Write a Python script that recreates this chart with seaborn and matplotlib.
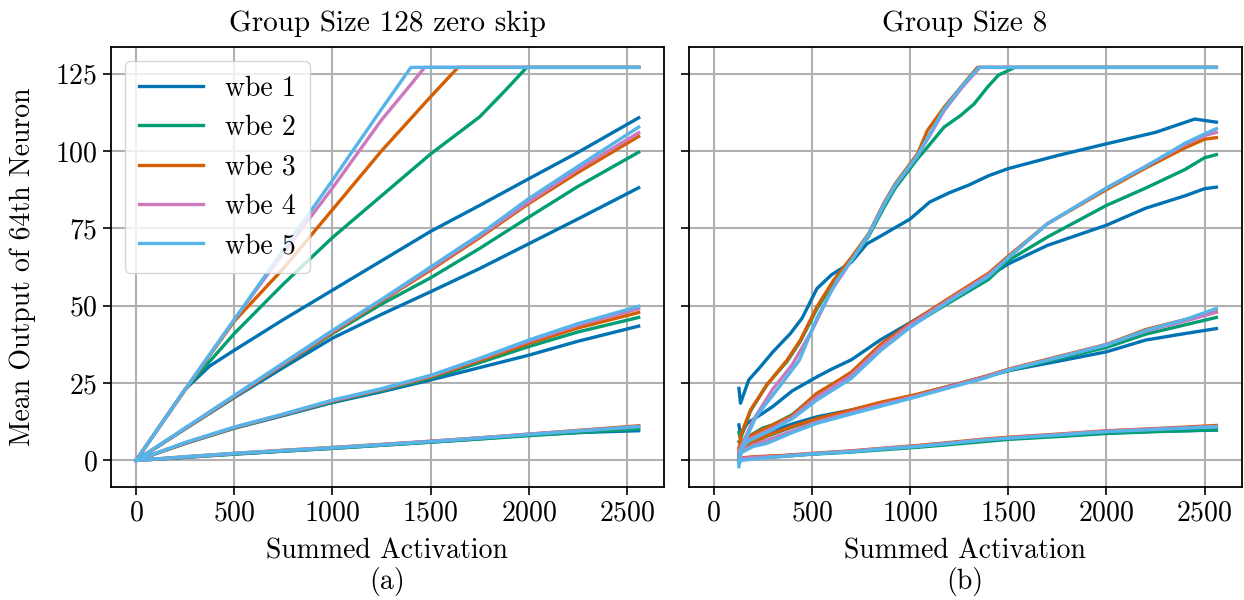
import matplotlib.pyplot as plt
import seaborn as sns
import pandas as pd

plt.rcParams["font.family"] = "serif"
plt.rcParams["font.serif"] = ["cmr10"]
plt.rcParams["mathtext.fontset"] = "cm"
plt.rcParams["axes.formatter.use_mathtext"] = True
plt.rcParams["font.size"] = 20

labels = ["wbe 1", "wbe 2", "wbe 3", "wbe 4", "wbe 5"]
colors = ["#0173B2", "#029E73", "#D55E00", "#CC78BC", "#56B4E9"]

# ---------- (a) Group Size 128 zero skip ----------
# upper family (runs into the 127 ceiling), own x points per wbe
a1_x = [
    [0, 125, 250, 375, 500, 750, 1000, 1250, 1500, 1750, 2000, 2250, 2560],
    [0, 250, 500, 750, 1000, 1250, 1500, 1750, 1880, 1990, 2560],
    [0, 250, 500, 750, 1000, 1250, 1500, 1640, 2560],
    [0, 250, 500, 750, 1000, 1250, 1400, 1470, 2560],
    [0, 250, 500, 750, 1000, 1250, 1400, 2560],
]
a1_y = [
    [0, 11.5, 23, 30.5, 35.6, 45.5, 55, 64.5, 74, 82.4, 91, 99.5, 110.7],
    [0, 23, 41, 57, 72, 85.5, 99, 111, 119.5, 127, 127],
    [0, 22.8, 45, 62, 81, 100, 117.5, 127, 127],
    [0, 23, 45.5, 67, 88, 110, 121.5, 127, 127],
    [0, 23, 45.5, 68, 90.5, 113.5, 127, 127],
]
# the three lower families share these x points
xa = [0, 250, 500, 750, 1000, 1250, 1500, 1750, 2000, 2250, 2560]
a2_y = [
    [0, 10.2, 20.3, 30, 39.5, 47.2, 54.5, 62, 70, 78, 88.1],
    [0, 10.3, 20.5, 30.8, 41, 50.5, 59, 68.5, 78.6, 88.5, 99.6],
    [0, 10.3, 20.6, 31, 41.3, 51.5, 61.5, 72, 83, 93, 104.7],
    [0, 10.4, 20.8, 31.2, 41.7, 51.8, 62, 72.5, 83.5, 94, 105.9],
    [0, 10.5, 21, 31.5, 42, 52, 62.5, 73, 84.6, 95, 107.7],
]
a3_y = [
    [0, 5.5, 10.4, 14.5, 18.7, 22.2, 26, 30, 34, 38.5, 43.4],
    [0, 5.5, 10.5, 14.7, 19, 22.6, 26.6, 31.6, 36.8, 41.5, 46.2],
    [0, 5.6, 10.6, 14.8, 19.2, 22.9, 27, 32.3, 37.8, 42.8, 47.8],
    [0, 5.7, 10.7, 14.9, 19.3, 23, 27.3, 32.8, 38.5, 43.7, 49],
    [0, 5.8, 10.8, 15, 19.5, 23.2, 27.5, 33, 38.9, 44.2, 49.8],
]
a4_y = [
    [0, 1.0, 2.1, 3.0, 3.9, 4.9, 5.9, 7.0, 8.2, 9.0, 9.6],
    [0, 1.0, 2.0, 3.0, 3.9, 4.9, 5.9, 6.9, 8.0, 9.0, 10.2],
    [0, 1.2, 2.3, 3.3, 4.2, 5.2, 6.2, 7.3, 8.5, 9.7, 11.2],
    [0, 1.1, 2.2, 3.2, 4.1, 5.1, 6.2, 7.3, 8.5, 9.6, 11.0],
    [0, 1.2, 2.3, 3.2, 4.1, 5.1, 6.1, 7.2, 8.4, 9.5, 10.9],
]

# ---------- (b) Group Size 8 ----------
b1_x = [
    [128, 136, 178, 238, 300, 390, 450, 525, 600, 700, 780, 850, 1000, 1100,
     1200, 1300, 1400, 1500, 1750, 2000, 2250, 2450, 2560],
    [128, 136, 187, 271, 373, 441, 525, 610, 700, 789, 865, 924, 1038, 1088,
     1173, 1258, 1326, 1394, 1450, 1534, 2560],
    [128, 136, 187, 271, 373, 441, 525, 610, 700, 789, 865, 924, 1038, 1088,
     1173, 1258, 1343, 2560],
    [128, 136, 200, 300, 400, 500, 600, 700, 789, 865, 924, 1038, 1100, 1173,
     1258, 1355, 2560],
    [128, 136, 215, 334, 436, 525, 628, 700, 789, 865, 924, 1038, 1100, 1173,
     1258, 1350, 2560],
]
b1_y = [
    [23.3, 18.5, 26, 30.3, 35, 41, 46, 55.5, 60, 64, 70, 72.5, 78, 83.5,
     86.5, 89, 92, 94.3, 98.5, 102.3, 106, 110.3, 109.3],
    [9, 7, 16, 24.5, 32, 38.5, 49, 57.5, 64.5, 72.5, 81.5, 88, 97.5, 101.2,
     107.7, 111.5, 115.2, 120.6, 124.5, 127, 127],
    [2.7, 8, 16.3, 24.5, 32.4, 38.9, 49.6, 58.2, 65.5, 73.3, 83, 89.4, 99.1,
     106.6, 114.1, 120.6, 127, 127],
    [0, 4, 13, 23, 31, 42, 55, 64.5, 73, 82.5, 88.8, 98.5, 105, 113, 120,
     127, 127],
    [-2, 3, 14.1, 23.8, 32.4, 46, 58.2, 64.5, 73, 82.5, 89, 98.5, 105.5,
     113.5, 120.5, 127, 127],
]
xb2 = [128, 136, 170, 250, 300, 400, 525, 600, 700, 850, 1000, 1200, 1400,
       1500, 1700, 2000, 2200, 2400, 2500, 2560]
b2_y = [
    [11.5, 8.2, 12, 15.3, 17.4, 22.5, 27, 29.5, 32.5, 39, 44.5, 52, 59.5,
     63.5, 69.5, 76, 81.5, 85.5, 87.8, 88.3],
    [6, 5, 7.5, 10.5, 11.5, 14.8, 21.5, 24.5, 28, 36.5, 43.3, 51, 58.5,
     64.6, 72.2, 82.4, 88, 94, 97.8, 98.8],
    [4, 6, 7.5, 10, 11.5, 14.5, 21.7, 24.5, 28.5, 37.5, 44.3, 52.5, 60.5,
     66, 76.5, 87.5, 94.5, 101, 103.8, 104.3],
    [2, 4.5, 6.5, 9, 10.5, 14, 20.5, 23.5, 27.5, 36.5, 43.8, 52, 60, 65.5,
     76.5, 88, 95, 102, 105, 106],
    [0, 3.5, 6, 8.5, 10, 13.5, 19.5, 22.5, 26.5, 35.5, 43, 51.5, 59.5, 65.5,
     76.5, 88, 95, 102.5, 105.5, 107.2],
]
xb3 = [128, 140, 200, 270, 400, 525, 700, 850, 1030, 1200, 1375, 1500, 1750,
       2000, 2200, 2400, 2560]
b3_y = [
    [2, 4, 6.5, 8.8, 11.8, 14.1, 16.3, 18.5, 21.1, 24, 27, 29, 32, 35.1,
     38.9, 41, 42.6],
    [1, 3.5, 5.8, 7.8, 10.8, 13.3, 16, 18.5, 21, 23.8, 26.8, 29, 32.8, 36.5,
     40.8, 43.8, 46.2],
    [1, 3.5, 6, 8, 11, 13.5, 16.3, 18.8, 21.3, 24, 27, 29.5, 33.5, 37.5,
     42.3, 45.5, 48],
    [0, 3, 5, 6.5, 9.5, 12.5, 15.5, 18, 20.8, 23.8, 26.8, 29.3, 33.3, 37.4,
     41.8, 45, 47.9],
    [-0.5, 2.5, 4.5, 5.5, 9, 12, 15, 17.5, 20.5, 23.5, 26.5, 29.2, 33.2,
     37.3, 42, 45.5, 49.1],
]
xb4 = [128, 140, 200, 350, 500, 700, 850, 1030, 1200, 1375, 1500, 1750, 2000,
       2250, 2560]
b4_y = [
    [0, 0.6, 1.0, 1.5, 2.1, 2.9, 3.7, 4.4, 5.4, 6.4, 7.0, 7.9, 8.9, 9.4, 9.8],
    [0, 0.5, 0.9, 1.3, 2.0, 2.7, 3.4, 4.2, 5.1, 6.1, 6.8, 7.7, 8.7, 9.3, 9.9],
    [0, 0.8, 1.2, 1.6, 2.3, 3.1, 3.9, 4.8, 5.8, 6.9, 7.5, 8.5, 9.6, 10.3, 11.3],
    [0, 0.6, 1.0, 1.4, 2.2, 3.0, 3.8, 4.6, 5.6, 6.7, 7.3, 8.4, 9.5, 10.2, 11.0],
    [-1, 0, 0.5, 1.3, 2.1, 2.8, 3.7, 4.5, 5.5, 6.6, 7.2, 8.2, 9.3, 10.0, 10.9],
]

rows = []
def add(panel, band, xs, ys):
    for i, lab in enumerate(labels):
        x = xs[i] if isinstance(xs[0], list) else xs
        for xv, yv in zip(x, ys[i]):
            rows.append((panel, lab, f"{band}-{i}", xv, yv))

add("a", 1, a1_x, a1_y)
add("a", 2, xa, a2_y)
add("a", 3, xa, a3_y)
add("a", 4, xa, a4_y)
add("b", 1, b1_x, b1_y)
add("b", 2, xb2, b2_y)
add("b", 3, xb3, b3_y)
add("b", 4, xb4, b4_y)
df = pd.DataFrame(rows, columns=["panel", "wbe", "curve", "x", "y"])

fig, axes = plt.subplots(1, 2, figsize=(12.44, 6), dpi=100, sharex=True, sharey=True)
fig.subplots_adjust(left=0.0892, right=0.998, top=0.921, bottom=0.189, wspace=0.045)

titles = ["Group Size 128 zero skip", "Group Size 8"]
for ax, p, t, tag in zip(axes, ["a", "b"], titles, ["(a)", "(b)"]):
    sns.lineplot(data=df[df.panel == p], x="x", y="y", hue="wbe", hue_order=labels,
                 palette=colors, units="curve", estimator=None, sort=False,
                 linewidth=2.4, ax=ax, legend=(p == "a"))
    ax.set_title(t, fontsize=21, pad=12)
    ax.set_xlabel("Summed Activation\n" + tag, labelpad=9, linespacing=1.1)
    ax.set_ylabel("")
    ax.grid(True, color="#b0b0b0", linewidth=1.5)
    ax.set_axisbelow(True)
    ax.set_xticks([0, 500, 1000, 1500, 2000, 2500])
    ax.set_yticks([0, 25, 50, 75, 100, 125])
    ax.tick_params(length=6, width=1.2)
    for s in ax.spines.values():
        s.set_linewidth(1.3)

axes[0].set_ylabel("Mean Output of 64th Neuron", labelpad=14)
sns.move_legend(axes[0], "upper left", title=None, frameon=True,
                handlelength=2.3, labelspacing=0.47, borderaxespad=0.5,
                borderpad=0.5)

fig.savefig("out.png", dpi=100)
